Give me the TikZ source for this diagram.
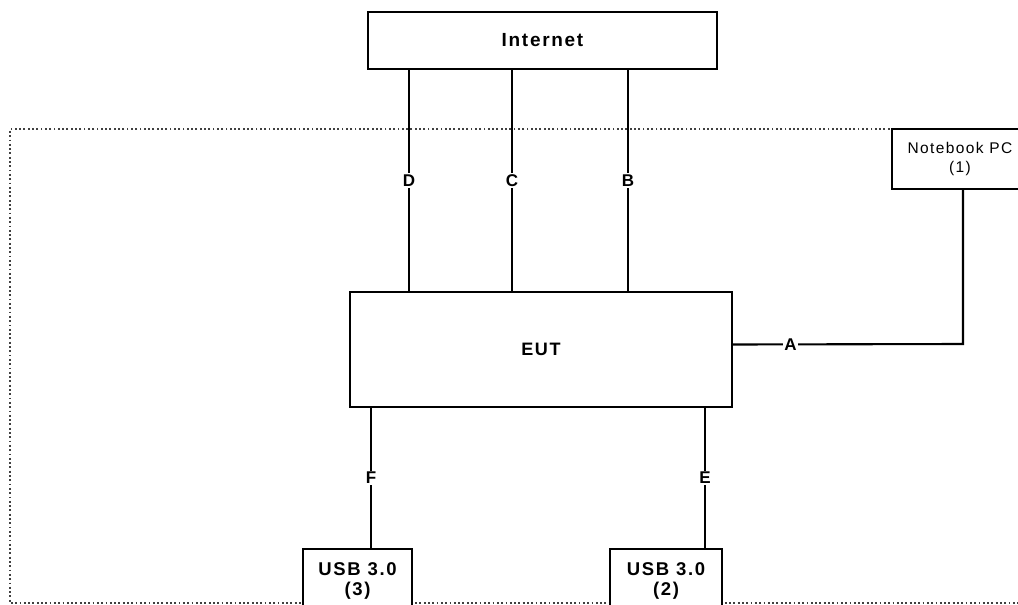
\documentclass[tikz,border=0pt]{standalone}
\usepackage{fontspec}
\setmainfont{Liberation Sans}[LetterSpace=9]
\begin{document}
\begin{tikzpicture}[x=1pt,y=-1pt,
    box/.style={draw,line width=2.1pt,fill=white,align=center,inner sep=0pt},
    wire/.style={line width=2.1pt},
    lbl/.style={fill=white,inner sep=1.5pt,font=\fontsize{17}{19}\selectfont\bfseries},
    dotbox/.style={line width=1.5pt,black!75,dash pattern=on 1.8pt off 2.5pt}]
  \useasboundingbox (0,0) rectangle (1018,605);
  \clip (0,0) rectangle (1018,605);
  % test area
  \draw[dotbox] (1040,129) -- (10,129) -- (10,603) -- (1040,603);
  \node[box,minimum width=349pt,minimum height=57pt,font=\fontsize{19}{20}\selectfont\bfseries]
    (inet) at (542.5,40.5) {Internet};
  \node[box,minimum width=382pt,minimum height=115pt,font=\fontsize{18}{20}\selectfont\bfseries]
    (eut) at (541,349.5) {EUT};
  \node[box,minimum width=136pt,minimum height=60pt,font=\fontsize{15.5}{18.5}\selectfont]
    (nb) at (960,159) {Notebook PC\\(1)};
  \node[box,minimum width=109pt,minimum height=64pt,font=\fontsize{18.5}{20.5}\selectfont\bfseries]
    (usb3) at (357.5,581) {USB 3.0\\(3)};
  \node[box,minimum width=112pt,minimum height=64pt,font=\fontsize{18.5}{20.5}\selectfont\bfseries]
    (usb2) at (666,581) {USB 3.0\\(2)};
  % cables
  \foreach \x/\l in {409/D,512/C,628/B}{
    \draw[wire] (\x,0 |- inet.south) -- node[lbl] (lbl\l) {\l} (\x,0 |- eut.north);
  }
  \draw[wire] ([yshift=5pt]eut.east) -- node[lbl,pos=0.25] (lblA) {A} (963,344) -- (963,0 |- nb.south);
  \draw[wire] (371,0 |- eut.south) -- node[lbl] (lblF) {F} (371,0 |- usb3.north);
  \draw[wire] (705,0 |- eut.south) -- node[lbl] (lblE) {E} (705,0 |- usb2.north);
\end{tikzpicture}
\end{document}
